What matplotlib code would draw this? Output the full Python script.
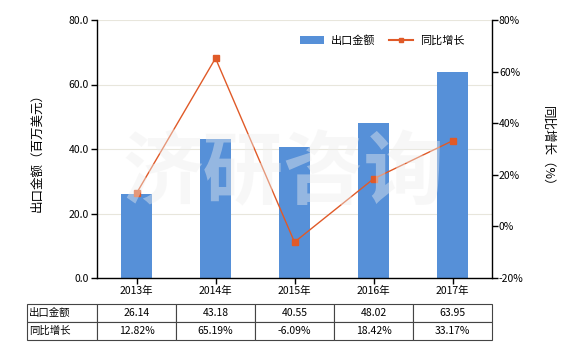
import matplotlib
matplotlib.use("Agg")
import matplotlib.pyplot as plt
from matplotlib.lines import Line2D
from matplotlib.patches import Patch

plt.rcParams['font.family'] = ['Noto Sans CJK SC', 'DejaVu Sans']

years = ['2013年', '2014年', '2015年', '2016年', '2017年']
export_value = [26.14, 43.18, 40.55, 48.02, 63.95]
yoy_growth = [12.82, 65.19, -6.09, 18.42, 33.17]
export_labels = ['26.14', '43.18', '40.55', '48.02', '63.95']
growth_labels = ['12.82%', '65.19%', '-6.09%', '18.42%', '33.17%']
row_names = ['出口金额', '同比增长']
left_ticks = [0, 20, 40, 60, 80]
right_ticks = [-20, 0, 20, 40, 60, 80]

bar_color = '#5690D8'
line_color = '#E05A28'
fs = 7.5

fig = plt.figure(figsize=(5.8, 3.5), dpi=100)
ax = fig.add_axes([97/580, 1-278/350, (492-97)/580, (278-20)/350])
x = list(range(len(years)))
ax.bar(x, export_value, width=0.4, color=bar_color, zorder=2)
ax.set_xlim(-0.5, len(years)-0.5)
ax.set_ylim(0, 80)
ax.set_yticks(left_ticks)
ax.set_yticklabels([f'{v:.1f}' for v in left_ticks], fontsize=fs)
ax.set_xticks(x)
ax.set_xticklabels(years, fontsize=fs)
ax.tick_params(axis='both', length=4, width=1, color='black', pad=2)
ax.grid(axis='y', color='#e8e6dc', linewidth=0.8, zorder=0)
ax.set_axisbelow(True)
ax.spines['top'].set_visible(False)
ax.spines['right'].set_visible(False)
for s in ['left', 'bottom']:
    ax.spines[s].set_linewidth(1.0)
ax.set_ylabel('出口金额（百万美元）', fontsize=9, labelpad=18)

ax2 = ax.twinx()
ax2.plot(x, yoy_growth, color=line_color, linewidth=1.0, marker='s',
         markersize=4.5, zorder=3)
ax2.set_ylim(-20, 80)
ax2.set_yticks(right_ticks)
ax2.set_yticklabels([f'{v}%' for v in right_ticks], fontsize=fs)
ax2.tick_params(axis='y', length=4, width=1, color='black', pad=1)
ax2.spines['top'].set_visible(False)
ax2.spines['left'].set_visible(False)
ax2.spines['bottom'].set_visible(False)
ax2.spines['right'].set_linewidth(1.0)
ax2.set_ylabel('同比增长（%）', fontsize=9, rotation=270, labelpad=22)

# watermark
fig.text(0.488, 0.50, '济研咨询', fontsize=58, fontweight='bold', color='#eeeeee',
         alpha=0.42, ha='center', va='center', zorder=10)

handles = [Patch(facecolor=bar_color, edgecolor='none'),
           Line2D([0], [0], color=line_color, linewidth=1.5, marker='s', markersize=3.5)]
ax2.legend(handles, ['出口金额', '同比增长'], loc='upper right', ncol=2, frameon=False,
           fontsize=fs+0.5, bbox_to_anchor=(0.955, 0.98), handlelength=2.2,
           columnspacing=1.2, handletextpad=0.6)

cell_text = [[row_names[0]] + export_labels, [row_names[1]] + growth_labels]
left_px = 27
total_w = 492 - left_px
col_widths = [70/total_w] + [79/total_w]*5
tab = ax.table(cellText=cell_text, colWidths=col_widths, cellLoc='center',
               bbox=[(left_px-97)/395, (278-340)/258, total_w/395, 36/258])
tab.auto_set_font_size(False)
for (r, c), cell in tab.get_celld().items():
    cell.set_edgecolor('#444444')
    cell.set_linewidth(0.8)
    cell.get_text().set_fontsize(fs)
    if c == 0:
        cell.get_text().set_ha('left')
        cell._loc = 'left'
        cell.PAD = 0.03

fig.savefig('out.png', dpi=100)
